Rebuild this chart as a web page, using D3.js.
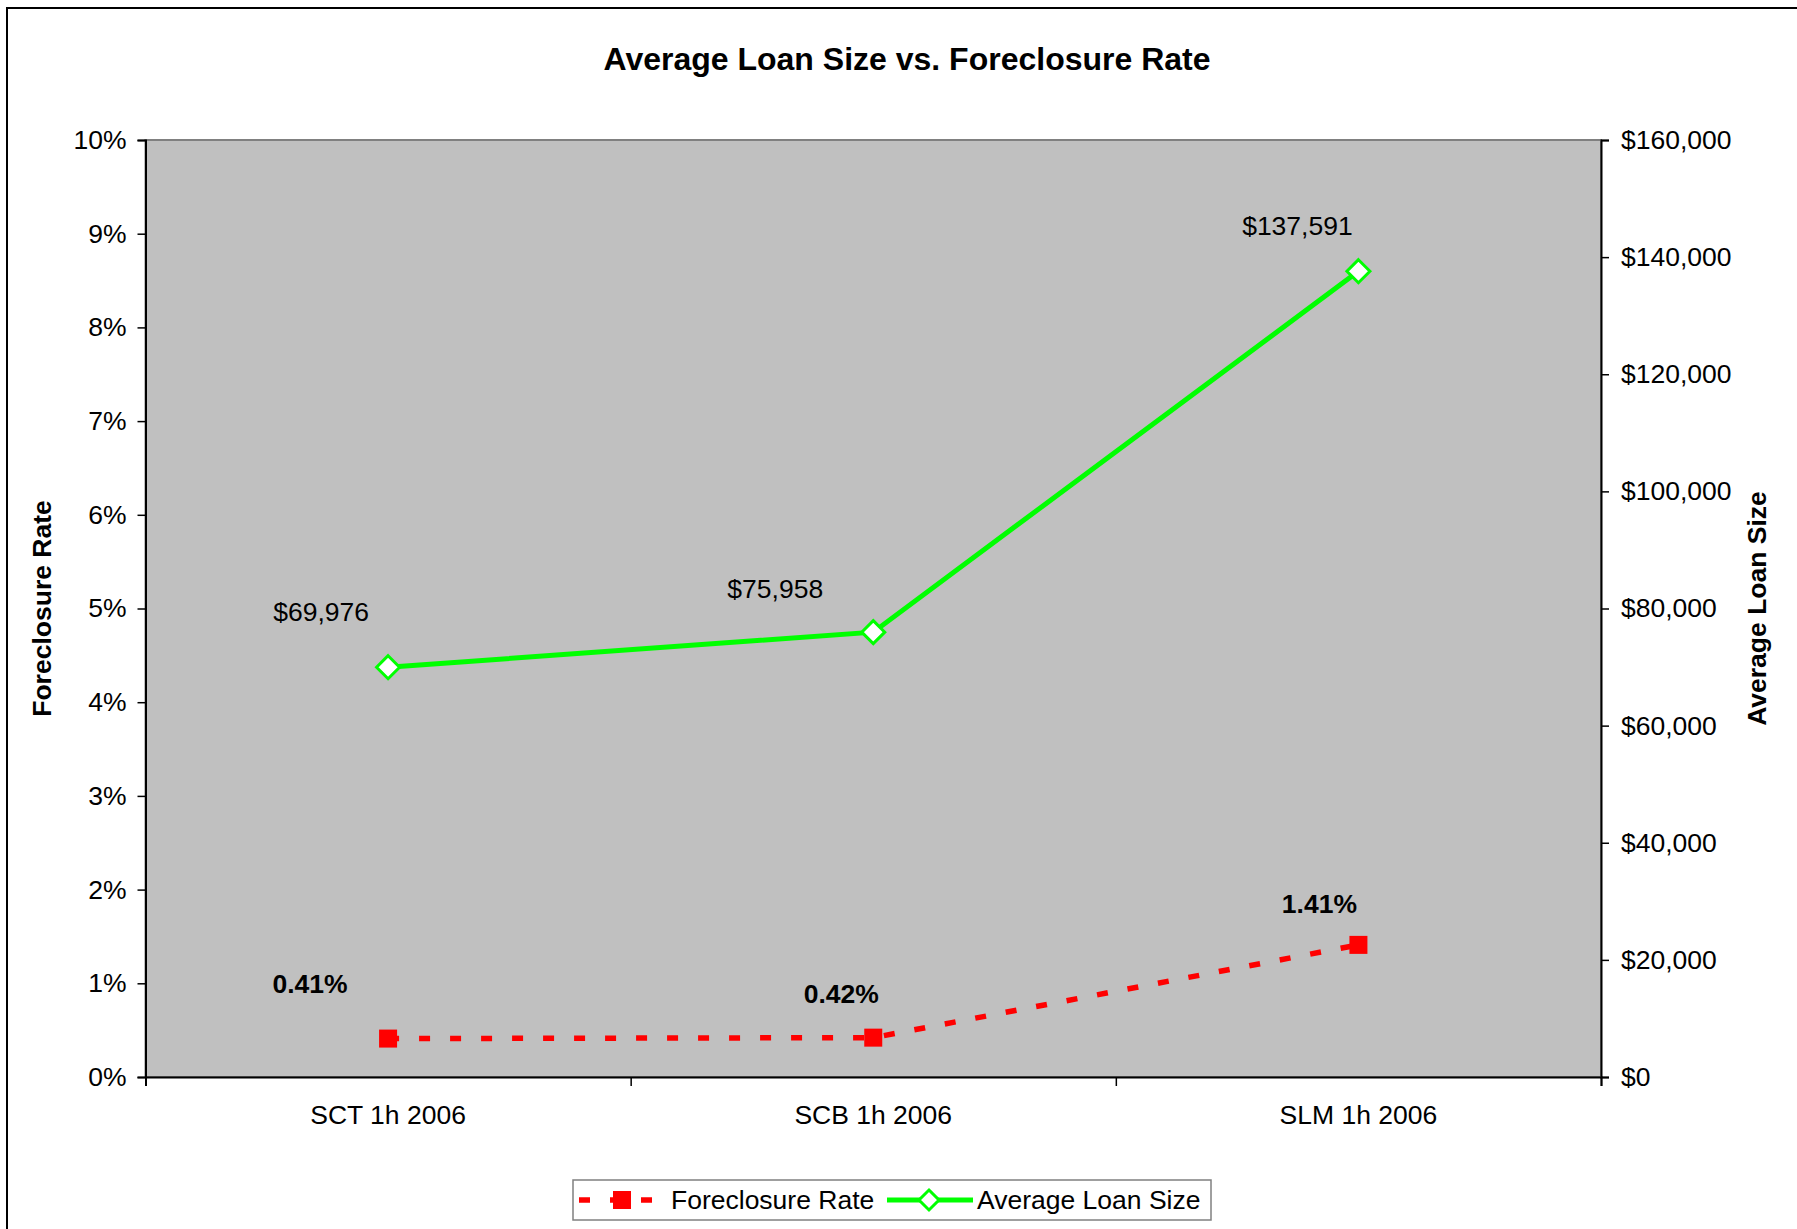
<!DOCTYPE html>
<html><head><meta charset="utf-8">
<script src="https://cdn.jsdelivr.net/npm/d3@7"></script>
<style>
body{margin:0;background:#fff;}
text{font-family:"Liberation Sans",Arial,sans-serif;fill:#000;}
</style></head>
<body>
<svg id="chart" width="1797" height="1229"></svg>
<script>
const categories = ["SCT 1h 2006", "SCB 1h 2006", "SLM 1h 2006"];
const foreclosureRate = [0.41, 0.42, 1.41];
const avgLoanSize = [69976, 75958, 137591];
const leftTicks = [0,1,2,3,4,5,6,7,8,9,10];
const rightTicks = [0,20000,40000,60000,80000,100000,120000,140000,160000];
// label placement offsets (layout, relative to the point)
const loanLabelOffset = [[-67,-55],[-98,-43],[-61,-45]];
const rateLabelOffset = [[-78,-55],[-32,-44],[-39,-41]];

const svg = d3.select("#chart");
const W = 1797, H = 1229;
const m = {left:145.5, right:1601, top:140, bottom:1077};
const FS = 26.5;

svg.append("rect").attr("x",0).attr("y",0).attr("width",W).attr("height",H).attr("fill","#fff");
svg.append("rect").attr("x",7).attr("y",8).attr("width",1820).attr("height",1260)
  .attr("fill","none").attr("stroke","#000").attr("stroke-width",2);

const x = d3.scaleBand().domain(categories).range([m.left,m.right]);
const yL = d3.scaleLinear().domain([0,10]).range([m.bottom,m.top]);
const yR = d3.scaleLinear().domain([0,160000]).range([m.bottom,m.top]);

// plot area
svg.append("rect").attr("x",m.left).attr("y",m.top).attr("width",m.right-m.left).attr("height",m.bottom-m.top)
  .attr("fill","#C0C0C0").attr("stroke","#808080").attr("stroke-width",2);

// title
svg.append("text").attr("x",907).attr("y",70).attr("text-anchor","middle")
  .attr("font-size",32).attr("font-weight","bold").text("Average Loan Size vs. Foreclosure Rate");

// left axis
const gL = svg.append("g").attr("transform",`translate(${m.left},0)`)
  .call(d3.axisLeft(yL).tickValues(leftTicks).tickFormat(d=>d+"%").tickSize(8).tickPadding(11));
// right axis
const gR = svg.append("g").attr("transform",`translate(${m.right},0)`)
  .call(d3.axisRight(yR).tickValues(rightTicks).tickFormat(d=>"$"+d3.format(",")(d)).tickSize(8).tickPadding(12));
// bottom axis
const xEdge = d3.scaleLinear().domain([0,categories.length]).range([m.left,m.right]);
const gB = svg.append("g").attr("transform",`translate(0,${m.bottom})`)
  .call(d3.axisBottom(xEdge).tickValues(d3.range(categories.length+1)).tickFormat("").tickSize(9));
svg.append("g").attr("transform",`translate(0,${m.bottom})`)
  .call(d3.axisBottom(x).tickSize(0).tickPadding(28))
  .call(g=>g.select(".domain").remove());

[gL,gR,gB].forEach(g=>{
  g.select(".domain").attr("stroke","#000").attr("stroke-width",2);
  g.selectAll(".tick line").attr("stroke","#000").attr("stroke-width",1.5);
});
svg.selectAll(".tick text").attr("font-size",FS).attr("font-family","Liberation Sans, Arial, sans-serif").attr("fill","#000");

// axis titles
svg.append("text").attr("transform",`translate(51,${(m.top+m.bottom)/2}) rotate(-90)`)
  .attr("text-anchor","middle").attr("font-size",26.5).attr("font-weight","bold").text("Foreclosure Rate");
svg.append("text").attr("transform",`translate(1766,${(m.top+m.bottom)/2}) rotate(-90)`)
  .attr("text-anchor","middle").attr("font-size",26.5).attr("font-weight","bold").text("Average Loan Size");

const cx = d => x(d) + x.bandwidth()/2;

// foreclosure rate line
const lineL = d3.line().x((d,i)=>cx(categories[i])).y(d=>yL(d));
svg.append("path").datum(foreclosureRate).attr("d",lineL).attr("fill","none")
  .attr("stroke","#FF0000").attr("stroke-width",5.5).attr("stroke-dasharray","11,20");
svg.selectAll(".sq").data(foreclosureRate).enter().append("rect")
  .attr("x",(d,i)=>cx(categories[i])-9).attr("y",d=>yL(d)-9).attr("width",18).attr("height",18)
  .attr("fill","#FF0000");

// loan size line
const lineR = d3.line().x((d,i)=>cx(categories[i])).y(d=>yR(d));
svg.append("path").datum(avgLoanSize).attr("d",lineR).attr("fill","none")
  .attr("stroke","#00FF00").attr("stroke-width",5);
const diamond = (px,py,r)=>`M${px},${py-r}L${px+r},${py}L${px},${py+r}L${px-r},${py}Z`;
svg.selectAll(".dm").data(avgLoanSize).enter().append("path")
  .attr("d",(d,i)=>diamond(cx(categories[i]),yR(d),11.5))
  .attr("fill","#fff").attr("stroke","#00FF00").attr("stroke-width",3);

// data labels
svg.selectAll(".ll").data(avgLoanSize).enter().append("text")
  .attr("x",(d,i)=>cx(categories[i])+loanLabelOffset[i][0])
  .attr("y",(d,i)=>yR(d)+loanLabelOffset[i][1]+9)
  .attr("text-anchor","middle").attr("font-size",FS).text(d=>"$"+d3.format(",")(d));
svg.selectAll(".rl").data(foreclosureRate).enter().append("text")
  .attr("x",(d,i)=>cx(categories[i])+rateLabelOffset[i][0])
  .attr("y",(d,i)=>yL(d)+rateLabelOffset[i][1]+9)
  .attr("text-anchor","middle").attr("font-size",FS).attr("font-weight","bold").text(d=>d.toFixed(2)+"%");

// legend
const lg = svg.append("g");
lg.append("rect").attr("x",573).attr("y",1180).attr("width",638).attr("height",40)
  .attr("fill","#fff").attr("stroke","#808080").attr("stroke-width",1.5);
const ly = 1200;
lg.append("line").attr("x1",579).attr("x2",662).attr("y1",ly).attr("y2",ly)
  .attr("stroke","#FF0000").attr("stroke-width",5.5).attr("stroke-dasharray","11,20");
lg.append("rect").attr("x",613).attr("y",ly-9).attr("width",18).attr("height",18).attr("fill","#FF0000");
lg.append("text").attr("x",671).attr("y",ly+9).attr("font-size",FS).text("Foreclosure Rate");
lg.append("line").attr("x1",887).attr("x2",973).attr("y1",ly).attr("y2",ly)
  .attr("stroke","#00FF00").attr("stroke-width",5);
lg.append("path").attr("d",diamond(929,ly,10)).attr("fill","#fff").attr("stroke","#00FF00").attr("stroke-width",3);
lg.append("text").attr("x",977).attr("y",ly+9).attr("font-size",FS).text("Average Loan Size");
</script>
</body></html>
